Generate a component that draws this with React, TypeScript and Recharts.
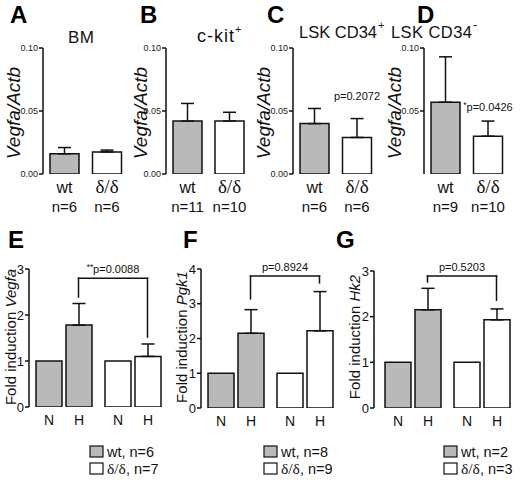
import React from 'react'
import {
  BarChart,
  Bar,
  XAxis,
  YAxis,
  ErrorBar,
  Cell,
  ReferenceLine,
  LabelList,
} from 'recharts'

const SANS = "'Liberation Sans', Arial, Helvetica, sans-serif"
const SERIF = "'Liberation Serif', 'Times New Roman', serif"
const GRAY = '#b9b9b9'
const INK = '#111'

const genotypes = ['wt', 'δ/δ']
const conditions = ['N', 'H']

// A-D: Vegfa/Actb
const bmMean = [0.016, 0.0175]
const bmSem = [0.005, 0.0015]
const bmN = ['n=6', 'n=6']

const ckitMean = [0.042, 0.042]
const ckitSem = [0.014, 0.007]
const ckitN = ['n=11', 'n=10']

const cd34posMean = [0.04, 0.029]
const cd34posSem = [0.012, 0.015]
const cd34posN = ['n=6', 'n=6']

const cd34negMean = [0.057, 0.03]
const cd34negSem = [0.036, 0.012]
const cd34negN = ['n=9', 'n=10']

const ratioTicks = [0, 0.05, 0.1]
const ratioTicksNoZero = [0.05, 0.1]

// E-G: fold induction, normoxia set to 1
const vegfaN = [1, 1]
const vegfaH = [1.78, 1.1]
const vegfaSem = [0.47, 0.27]
const vegfaLegend = ['n=6', 'n=7']

const pgk1N = [1, 1]
const pgk1H = [2.15, 2.22]
const pgk1Sem = [0.68, 1.13]
const pgk1Legend = ['n=8', 'n=9']

const hk2N = [1, 1]
const hk2H = [2.15, 1.93]
const hk2Sem = [0.47, 0.24]
const hk2Legend = ['n=2', 'n=3']

const foldTicks3 = [0, 1, 2, 3]
const foldTicks4 = [0, 1, 2, 3, 4]

const BAR = 26
const GAP = 4
const SHIFT = (BAR + GAP) / 2

const axisStyle = { stroke: INK, strokeWidth: 1.5 }

function PText({ stars, text, x, y, size }: { stars: string; text: string; x: number; y: number; size: number }) {
  return (
    <text x={x} y={y} textAnchor="middle" fontFamily={SANS} fontSize={size} fill={INK}>
      {stars && (
        <tspan fontSize={size * 0.75} dy={-3}>
          {stars}
        </tspan>
      )}
      <tspan dy={stars ? 3 : 0}>{text}</tspan>
    </text>
  )
}

// genotype + n under each bar, and optional p value over the second bar
function topLabel(nLabels: string[], mean: number[], p?: { stars: string; text: string; y: number }) {
  return (props: any) => {
    const vb = props.viewBox ?? props
    const i = props.index ?? 0
    const cx = vb.x + vb.width / 2
    const base = vb.y + vb.height
    const isWt = i === 0
    return (
      <g>
        <text
          x={cx}
          y={base + 19}
          textAnchor="middle"
          fontFamily={isWt ? SANS : SERIF}
          fontSize={isWt ? 16 : 19}
          fill={INK}
        >
          {genotypes[i]}
        </text>
        <text x={cx} y={base + 38} textAnchor="middle" fontFamily={SANS} fontSize={15} fill={INK}>
          {nLabels[i]}
        </text>
        {p && i === 1 && (
          <PText stars={p.stars} text={p.text} x={cx} y={base - (p.y * vb.height) / mean[i] + 4} size={11} />
        )}
      </g>
    )
  }
}

interface TopProps {
  axisX: number
  plotW: number
  mean: number[]
  sem: number[]
  nLabels: string[]
  ticks: number[]
  p?: { stars: string; text: string; y: number }
}

function TopPanel({ axisX, plotW, mean, sem, nLabels, ticks, p }: TopProps) {
  const yw = 40
  const data = genotypes.map((g, i) => ({ name: g, mean: mean[i], err: [0, sem[i]] }))
  return (
    <div style={{ position: 'absolute', left: axisX - yw, top: 0 }}>
      <BarChart
        width={yw + plotW + 14}
        height={230}
        data={data}
        margin={{ top: 48, right: 14, bottom: 56, left: 0 }}
        barSize={29}
      >
        <XAxis dataKey="name" height={0} axisLine={axisStyle} tickLine={false} tick={false} />
        <YAxis
          width={yw}
          domain={[0, 0.1]}
          allowDataOverflow
          ticks={ticks}
          tickFormatter={(v) => v.toFixed(2)}
          tickSize={4}
          tickMargin={1}
          axisLine={axisStyle}
          tickLine={axisStyle}
          tick={{ fontSize: 9, fill: '#222', fontFamily: SANS }}
        />
        <Bar dataKey="mean" stroke={INK} strokeWidth={1.5} isAnimationActive={false}>
          {data.map((d, i) => (
            <Cell key={d.name} fill={i === 0 ? GRAY : '#fff'} />
          ))}
          <ErrorBar dataKey="err" direction="y" width={6.5} stroke={INK} strokeWidth={1.5} isAnimationActive={false} />
          <LabelList dataKey="mean" content={topLabel(nLabels, mean, p)} />
        </Bar>
      </BarChart>
    </div>
  )
}

function condLabel(text: string) {
  return (props: any) => {
    const vb = props.viewBox ?? props
    return (
      <text
        x={vb.x + vb.width / 2}
        y={vb.y + vb.height + 18}
        textAnchor="middle"
        fontFamily={SANS}
        fontSize={14}
        fill={INK}
      >
        {text}
      </text>
    )
  }
}

const piece = (s: any) => (
  <line
    x1={s.x1 + SHIFT}
    y1={s.y1}
    x2={s.x2 + SHIFT}
    y2={s.y2}
    stroke={INK}
    strokeWidth={1.5}
    strokeLinecap="square"
  />
)

interface BottomProps {
  axisX: number
  plotW: number
  yTop: number
  yBottom: number
  yMax: number
  ticks: number[]
  nMean: number[]
  hMean: number[]
  hSem: number[]
  pad?: number
  bracket: { top: number; left: number; right: number; stars: string; text: string }
}

function BottomPanel({ axisX, plotW, yTop, yBottom, yMax, ticks, nMean, hMean, hSem, pad = 0, bracket }: BottomProps) {
  const yw = 28
  const top = 240
  const height = 200
  const data = genotypes.map((g, i) => ({ name: g, N: nMean[i], H: hMean[i], hErr: [0, hSem[i]] }))
  const topShape = (s: any) => (
    <g>
      {piece(s)}
      <PText stars={bracket.stars} text={bracket.text} x={(s.x1 + s.x2) / 2 + SHIFT} y={s.y1 - 5} size={11} />
    </g>
  )
  return (
    <div style={{ position: 'absolute', left: axisX - yw, top }}>
      <BarChart
        width={yw + plotW}
        height={height}
        data={data}
        margin={{ top: yTop - top, right: 0, bottom: top + height - yBottom, left: 0 }}
        barSize={BAR}
        barGap={GAP}
      >
        <XAxis
          dataKey="name"
          height={0}
          axisLine={axisStyle}
          tickLine={false}
          tick={false}
          padding={{ left: pad, right: pad }}
        />
        <YAxis
          width={yw}
          domain={[0, yMax]}
          allowDataOverflow
          ticks={ticks}
          tickSize={4}
          tickMargin={1}
          axisLine={axisStyle}
          tickLine={axisStyle}
          tick={{ fontSize: 13, fill: INK, fontFamily: SANS }}
        />
        {conditions.map((c) => (
          <Bar key={c} dataKey={c} stroke={INK} strokeWidth={1.5} isAnimationActive={false}>
            {data.map((d, i) => (
              <Cell key={d.name} fill={i === 0 ? GRAY : '#fff'} />
            ))}
            {c === 'H' && (
              <ErrorBar dataKey="hErr" direction="y" width={6.5} stroke={INK} strokeWidth={1.5} isAnimationActive={false} />
            )}
            <LabelList dataKey={c} content={condLabel(c)} />
          </Bar>
        ))}
        <ReferenceLine
          segment={[
            { x: genotypes[0], y: bracket.top },
            { x: genotypes[1], y: bracket.top },
          ]}
          ifOverflow="visible"
          shape={topShape}
        />
        <ReferenceLine
          segment={[
            { x: genotypes[0], y: bracket.top },
            { x: genotypes[0], y: bracket.left },
          ]}
          ifOverflow="visible"
          shape={piece}
        />
        <ReferenceLine
          segment={[
            { x: genotypes[1], y: bracket.top },
            { x: genotypes[1], y: bracket.right },
          ]}
          ifOverflow="visible"
          shape={piece}
        />
      </BarChart>
    </div>
  )
}

function Legend({ x, nLabels }: { x: number; nLabels: string[] }) {
  return (
    <g>
      {genotypes.map((g, i) => {
        const y = 446 + i * 17
        return (
          <g key={g}>
            <rect x={x} y={y} width={13} height={11} fill={i === 0 ? GRAY : '#fff'} stroke={INK} strokeWidth={1.2} />
            <text x={x + 17} y={y + 10.5} fontSize={14.5} fill={INK} fontFamily={SANS}>
              <tspan fontFamily={i === 0 ? SANS : SERIF} fontSize={i === 0 ? 14.5 : 15.5}>
                {g}
              </tspan>
              {`, ${nLabels[i]}`}
            </text>
          </g>
        )
      })}
    </g>
  )
}

const letters = [
  { t: 'A', x: 10, y: 23 },
  { t: 'B', x: 140, y: 23 },
  { t: 'C', x: 267, y: 23 },
  { t: 'D', x: 417, y: 23 },
  { t: 'E', x: 8, y: 248 },
  { t: 'F', x: 183, y: 248 },
  { t: 'G', x: 336, y: 248 },
]

// panel titles: main text, its width in the reference, and a superscript
const titles = [
  { t: 'BM', sup: '', x: 68, y: 43, w: 26, size: 17 },
  { t: 'c-kit', sup: '+', x: 197, y: 42, w: 37, size: 18 },
  { t: 'LSK CD34', sup: '+', x: 299, y: 38, w: 78, size: 16.5 },
  { t: 'LSK CD34', sup: '-', x: 391, y: 38, w: 81, size: 16.5 },
]

export default function App() {
  return (
    <div
      style={{
        position: 'absolute',
        left: 0,
        top: 0,
        width: 520,
        height: 482,
        background: '#fff',
        overflow: 'hidden',
      }}
    >
      <TopPanel axisX={43} plotW={85} mean={bmMean} sem={bmSem} nLabels={bmN} ticks={ratioTicks} />
      <TopPanel axisX={166} plotW={84} mean={ckitMean} sem={ckitSem} nLabels={ckitN} ticks={ratioTicks} />
      <TopPanel
        axisX={293}
        plotW={85}
        mean={cd34posMean}
        sem={cd34posSem}
        nLabels={cd34posN}
        ticks={ratioTicks}
        p={{ stars: '', text: 'p=0.2072', y: 0.062 }}
      />
      <TopPanel
        axisX={424}
        plotW={85}
        mean={cd34negMean}
        sem={cd34negSem}
        nLabels={cd34negN}
        ticks={ratioTicksNoZero}
        p={{ stars: '*', text: 'p=0.0426', y: 0.053 }}
      />

      <BottomPanel
        axisX={29}
        plotW={138}
        yTop={269}
        yBottom={407}
        yMax={3}
        ticks={foldTicks3}
        nMean={vegfaN}
        hMean={vegfaH}
        hSem={vegfaSem}
        bracket={{ top: 2.8, left: 2.39, right: 1.52, stars: '**', text: 'p=0.0088' }}
      />
      <BottomPanel
        axisX={201}
        plotW={138}
        yTop={269}
        yBottom={408}
        yMax={4}
        ticks={foldTicks4}
        nMean={pgk1N}
        hMean={pgk1H}
        hSem={pgk1Sem}
        bracket={{ top: 3.8, left: 3.14, right: 3.6, stars: '', text: 'p=0.8924' }}
      />
      <BottomPanel
        axisX={374}
        plotW={146}
        yTop={271}
        yBottom={408}
        yMax={3}
        ticks={foldTicks3}
        nMean={hk2N}
        hMean={hk2H}
        hSem={hk2Sem}
        pad={4}
        bracket={{ top: 2.89, left: 2.76, right: 2.36, stars: '', text: 'p=0.5203' }}
      />

      <svg
        width={520}
        height={482}
        style={{ position: 'absolute', left: 0, top: 0, pointerEvents: 'none' }}
      >
        {letters.map((l) => (
          <text key={l.t} x={l.x} y={l.y} fontSize={24} fontWeight="bold" fontFamily={SANS} fill="#000">
            {l.t}
          </text>
        ))}

        {titles.map((t) => (
          <g key={t.x} fontFamily={SANS} fill={INK}>
            <text x={t.x} y={t.y} fontSize={t.size} textLength={t.w} lengthAdjust="spacing">
              {t.t}
            </text>
            {t.sup && (
              <text x={t.x + t.w + 1} y={t.y - 9} fontSize={t.sup === '-' ? 13 : 11}>
                {t.sup}
              </text>
            )}
          </g>
        ))}

        {[13, 140, 263, 394].map((cx) => (
          <text
            key={cx}
            transform={`translate(${cx},113) rotate(-90)`}
            textAnchor="middle"
            dominantBaseline="central"
            fontFamily={SANS}
            fontStyle="italic"
            fontSize={19}
            fill={INK}
          >
            Vegfa/Actb
          </text>
        ))}

        {[
          { cx: 10, gene: 'Vegfa' },
          { cx: 181, gene: 'Pgk1' },
          { cx: 354, gene: 'Hk2' },
        ].map((l) => (
          <text
            key={l.gene}
            transform={`translate(${l.cx},337) rotate(-90)`}
            textAnchor="middle"
            dominantBaseline="central"
            fontFamily={SANS}
            fontSize={15}
            fill={INK}
          >
            Fold induction <tspan fontStyle="italic">{l.gene}</tspan>
          </text>
        ))}

        <Legend x={90} nLabels={vegfaLegend} />
        <Legend x={264} nLabels={pgk1Legend} />
        <Legend x={444} nLabels={hk2Legend} />
      </svg>
    </div>
  )
}
